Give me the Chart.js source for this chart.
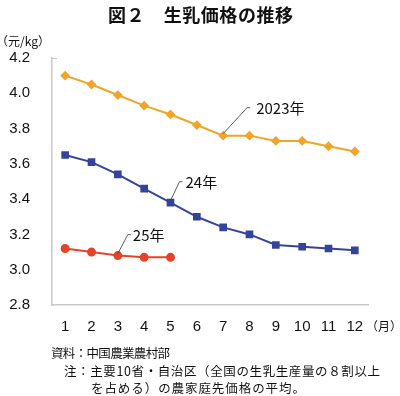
<!DOCTYPE html>
<html lang="ja">
<head>
<meta charset="UTF-8">
<title>図２ 生乳価格の推移</title>
<script src="https://cdn.jsdelivr.net/npm/chart.js"></script>
<style>
  html, body { margin: 0; padding: 0; background: #fff; }
  #wrap { position: relative; width: 400px; height: 396px; }
</style>
</head>
<body>
<div id="wrap"><canvas id="milkChart" width="400" height="396"></canvas></div>
<script>
// data
const months = ['1','2','3','4','5','6','7','8','9','10','11','12'];
const price2023 = [4.10, 4.05, 3.99, 3.93, 3.88, 3.82, 3.76, 3.76, 3.73, 3.73, 3.70, 3.67];
const price2024 = [3.65, 3.61, 3.54, 3.46, 3.38, 3.30, 3.24, 3.20, 3.14, 3.13, 3.12, 3.11];
const price2025 = [3.12, 3.10, 3.08, 3.07, 3.07];
const yTicks = [2.8, 3.0, 3.2, 3.4, 3.6, 3.8, 4.0, 4.2];

const JP = '"Noto Sans CJK JP", "Noto Sans", sans-serif';
const NUM = '"Liberation Sans", Arial, sans-serif';

// labels with leader lines: [datasetIndex, pointIndex, text, dx, dy, textX]
const callouts = [
    [0, 6, '2023年', 24, -28, 33],
    [1, 4, '24年', 9, -21, 15],
    [2, 2, '25年', 10, -21, 15]
];

// draw text stretched to a given width with letter spacing
function fitText(ctx, txt, x, y, w) {
    ctx.letterSpacing = '0px';
    const natural = ctx.measureText(txt).width;
    const sp = (w - natural) / (txt.length - 1);
    ctx.letterSpacing = sp.toFixed(2) + 'px';
    ctx.fillText(txt, x, y);
    ctx.letterSpacing = '0px';
}

const extras = {
    id: 'extras',
    afterDraw(chart) {
        const ctx = chart.ctx;
        const area = chart.chartArea;
        ctx.save();
        // title
        ctx.fillStyle = '#111';
        ctx.textAlign = 'left';
        ctx.textBaseline = 'middle';
        ctx.font = 'bold 18px ' + JP;
        fitText(ctx, '図２　生乳価格の推移', 108, 15, 185);
        // unit
        ctx.font = '12px ' + JP;
        ctx.fillText('（元/kg）', -4, 41);
        ctx.fillText('（月）', 366, 326);
        // small tick at the top of y axis
        ctx.strokeStyle = '#c8c8c8';
        ctx.lineWidth = 1;
        ctx.beginPath();
        ctx.moveTo(area.left, area.top + 0.5);
        ctx.lineTo(area.left + 5, area.top + 0.5);
        ctx.stroke();
        // callouts
        ctx.strokeStyle = '#333';
        ctx.lineWidth = 0.8;
        ctx.font = '15px ' + JP;
        ctx.fillStyle = '#111';
        callouts.forEach(([ds, idx, txt, dx, dy, tx]) => {
            const pt = chart.getDatasetMeta(ds).data[idx];
            ctx.beginPath();
            ctx.moveTo(pt.x, pt.y - 2);
            ctx.lineTo(pt.x + dx, pt.y + dy);
            ctx.lineTo(pt.x + dx + 3, pt.y + dy);
            ctx.stroke();
            ctx.fillText(txt, pt.x + tx, pt.y + dy + 1);
        });
        // source notes
        ctx.font = '12.5px ' + JP;
        fitText(ctx, '資料：中国農業農村部', 51, 353, 119);
        fitText(ctx, '注：主要10省・自治区（全国の生乳生産量の８割以上', 64, 371, 316);
        fitText(ctx, 'を占める）の農家庭先価格の平均。', 91, 388, 214);
        ctx.restore();
    }
};

new Chart(document.getElementById('milkChart'), {
    type: 'line',
    data: {
        labels: months,
        datasets: [
            {
                label: '2023年',
                data: price2023,
                borderColor: '#f0a52a',
                backgroundColor: '#f0a52a',
                borderWidth: 2,
                pointStyle: 'rectRot',
                pointRadius: 3.5,
                tension: 0
            },
            {
                label: '24年',
                data: price2024,
                borderColor: '#34449a',
                backgroundColor: '#34449a',
                borderWidth: 2,
                pointStyle: 'rect',
                pointRadius: 4,
                tension: 0
            },
            {
                label: '25年',
                data: price2025,
                borderColor: '#e5432a',
                backgroundColor: '#e5432a',
                borderWidth: 2,
                pointStyle: 'circle',
                pointRadius: 3.5,
                tension: 0
            }
        ]
    },
    options: {
        responsive: false,
        animation: false,
        layout: { padding: { top: 58, right: 32, bottom: 57, left: 0 } },
        plugins: {
            legend: { display: false },
            tooltip: { enabled: false }
        },
        scales: {
            x: {
                offset: true,
                grid: { color: 'transparent', drawTicks: false },
                border: { color: '#c8c8c8', width: 1.5 },
                ticks: {
                    color: '#111',
                    font: { family: NUM, size: 15 },
                    padding: 13,
                    maxRotation: 0,
                    autoSkip: false
                },
                afterFit: s => { s.height = 34; }
            },
            y: {
                min: 2.8,
                max: 4.2,
                afterBuildTicks: s => { s.ticks = yTicks.map(v => ({ value: v })); },
                grid: { color: 'transparent', drawTicks: false },
                border: { color: '#c8c8c8', width: 1.5 },
                ticks: {
                    color: '#111',
                    font: { family: NUM, size: 15 },
                    padding: 22,
                    callback: v => Number(v).toFixed(1)
                },
                afterFit: s => { s.width = 52; }
            }
        }
    },
    plugins: [extras]
});
</script>
</body>
</html>
